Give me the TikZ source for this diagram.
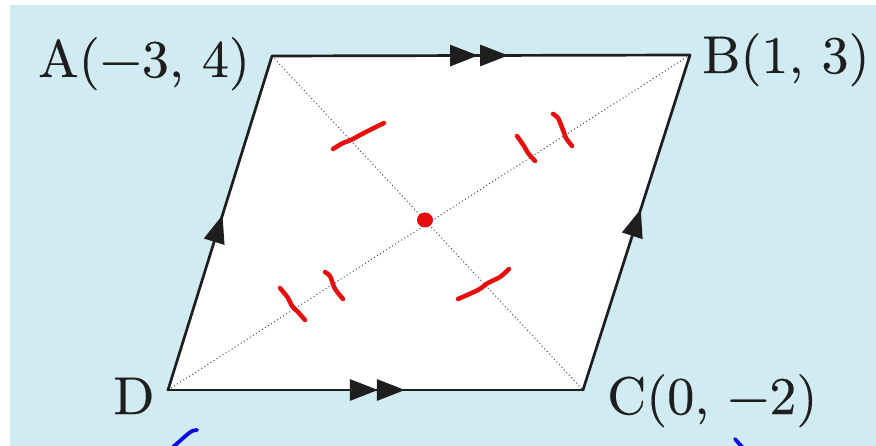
\documentclass[tikz,border=0pt]{standalone}
\usepackage{fontspec}
\newfontfamily\lblfont{lmroman10-regular.otf}[FakeStretch=1.02,FakeBold=0.3]
\usetikzlibrary{arrows.meta,decorations.markings}
\definecolor{bgblue}{RGB}{209,235,243}
\definecolor{penred}{RGB}{232,12,12}
\definecolor{penblue}{RGB}{10,10,225}
\definecolor{inkgray}{RGB}{30,30,30}
\begin{document}
\begin{tikzpicture}[x=1pt,y=-1pt,
  >={Triangle[length=28pt,width=21pt]},
  side/.style={line width=2.7pt,draw=inkgray,line cap=round,line join=miter},
  diag/.style={line width=1pt,draw=inkgray!80,dash pattern=on 1pt off 2.6pt},
  lbl/.style={inner sep=0pt,anchor=base west,font=\lblfont\fontsize{53}{60}\selectfont,text=inkgray},
  redmark/.style={line width=4.5pt,draw=penred,line cap=round,line join=round},
  bluemark/.style={line width=3.8pt,draw=penblue,line cap=round,line join=round},
  onearrow/.style={postaction={decorate},decoration={markings,
     mark=at position #1 with {\arrow[inkgray]{>}}}},
  twoarrows/.style 2 args={postaction={decorate},decoration={markings,
     mark=at position #1 with {\arrow[inkgray]{>}},
     mark=at position #2 with {\arrow[inkgray]{>}}}}
]
\useasboundingbox (0,0) rectangle (876,446);
\fill[white] (0,0) rectangle (876,446);
\fill[bgblue] (10,5) rectangle (876,446);

\coordinate (A) at (272,56);
\coordinate (B) at (690,55);
\coordinate (C) at (583,390);
\coordinate (D) at (168,390);

\fill[white] (A) -- (B) -- (C) -- (D) -- cycle;

% diagonals
\draw[diag] (A) -- (C);
\draw[diag] (B) -- (D);

% sides
\draw[side,twoarrows={0.493}{0.565}] (A) -- (B);
\draw[side,twoarrows={0.506}{0.571}] (D) -- (C);
\draw[side,onearrow=0.524] (D) -- (A);
\draw[side,onearrow=0.54] (C) -- (B);

% labels
\node[lbl] (la) at (38,77) {A(−3, 4)};
\node[lbl] (lb) at (702,73) {B(1, 3)};
\node[lbl] (lc) at (607,414) {C(0, −2)};
\node[lbl] (ld) at (113,414) {D};

% red handwritten marks
\draw[redmark] plot[smooth] coordinates {(333,149) (343,143) (351,140) (362,134) (384,123)};
\draw[redmark] plot[smooth] coordinates {(458,299) (478,290) (488,283) (500,277) (509,269)};
\draw[redmark] plot[smooth] coordinates {(517,136) (524,146) (528,153) (535,161)};
\draw[redmark] plot[smooth] coordinates {(553,114) (558,118) (563,130) (566,138) (572,146)};
\draw[redmark] plot[smooth] coordinates {(325,272) (330,276) (334,287) (338,293) (343,299)};
\draw[redmark] plot[smooth] coordinates {(280,288) (288,298) (292,306) (298,312) (305,320)};
\fill[penred] (425,220) ellipse [x radius=8pt, y radius=7.5pt];

% blue marks
\draw[bluemark] (197,430) .. controls (191,430) and (189,433) .. (172,448);
\draw[bluemark] (735,439) -- (743,448);
\end{tikzpicture}
\end{document}
